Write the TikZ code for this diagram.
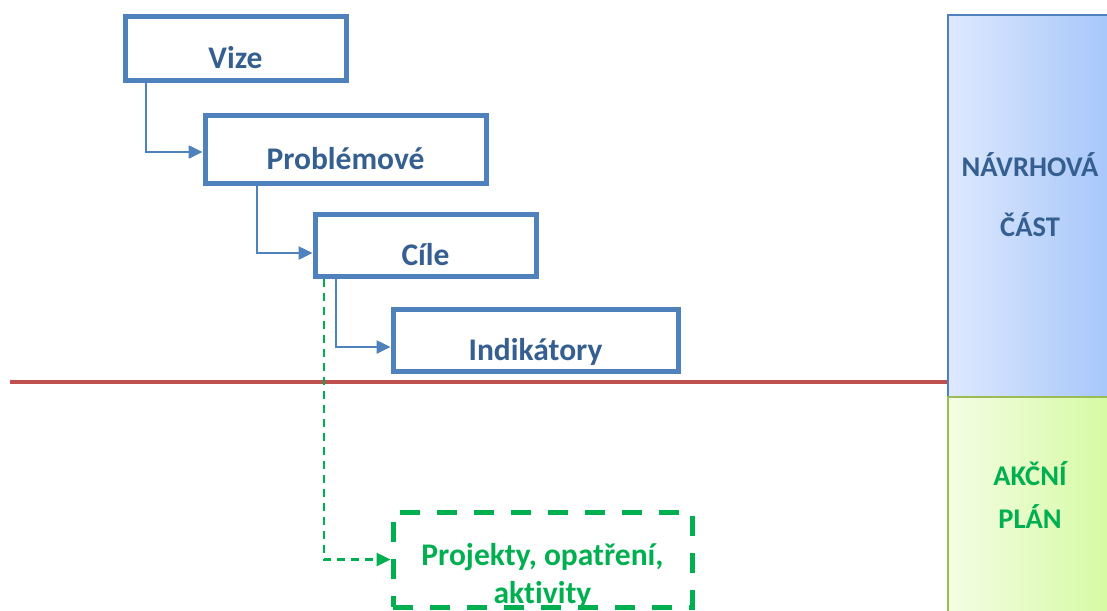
\documentclass[tikz,border=0pt]{standalone}
\usepackage{fontspec}
\setmainfont{Carlito}[Ligatures=NoCommon]
\usepackage{xcolor}
\usetikzlibrary{arrows.meta,calc,positioning}
\definecolor{boxblue}{RGB}{79,129,189}
\definecolor{textblue}{RGB}{54,95,145}
\definecolor{actgreen}{RGB}{0,176,80}
\definecolor{linered}{RGB}{192,80,77}
\definecolor{planborder}{RGB}{155,187,89}

\begin{document}
\begin{tikzpicture}[x=1pt, y=-1pt,
    every node/.style={font=\bfseries\fontsize{31.5}{38}\selectfont},
    level/.style={draw=boxblue, line width=5pt, text=textblue, inner sep=0pt,
        text height=40pt, text depth=0pt},
    link/.style={draw=boxblue, line width=2.5pt, -{Triangle[length=14pt,width=13pt]}},
    actlink/.style={draw=actgreen, line width=2.5pt, dash pattern=on 8pt off 6pt,
        -{Triangle[length=14pt,width=13pt]}},
    actbox/.style={draw=actgreen, line width=5pt, dash pattern=on 20pt off 17pt,
        text=actgreen, inner sep=0pt, align=center},
    panel/.style={line width=2pt, inner sep=0pt, align=center,
        font=\bfseries\fontsize{28.5}{60}\selectfont}]
    \useasboundingbox (0,0) rectangle (1107,610);

    % Right side: the two parts of the document
    \node[panel, draw=boxblue, left color={rgb,255:red,222;green,233;blue,254},
        right color={rgb,255:red,166;green,198;blue,250}, text=textblue,
        minimum width=164pt, minimum height=381.5pt, text height=60.5pt, text depth=0pt]
        (nav) at (1030,206.25) {NÁVRHOVÁ\\ČÁST};
    \node[panel, draw=planborder, left color={rgb,255:red,243;green,253;blue,228},
        right color={rgb,255:red,214;green,250;blue,162}, text=actgreen,
        font=\bfseries\fontsize{28.5}{43}\selectfont,
        minimum width=164pt, minimum height=215pt, text height=48pt, text depth=0pt]
        (plan) at (1030,504.5) {AKČNÍ\\PLÁN};

    % Dividing line
    \coordinate (redstart) at (10,381.5);
    \draw[linered, line width=4pt] (redstart) -- (redstart -| nav.west);

    % Levels of the strategy
    \node[level, minimum width=221pt, minimum height=63pt] (vize) at (235.5,48.5) {Vize};
    \node[level, minimum width=281pt, minimum height=68pt] (prob) at (345.5,149) {Problémové};
    \node[level, minimum width=221pt, minimum height=62pt] (cile) at (425.5,245) {Cíle};
    \node[level, minimum width=285pt, minimum height=62pt] (ind) at (535.5,340) {Indikátory};
    \node[actbox, minimum width=299pt, minimum height=95pt, text height=87pt, text depth=0pt]
        (proj) at (542.5,559.5) {Projekty, opatření,\\aktivity};

    % Connectors
    \draw[link] ([xshift=23.5pt]vize.south west) |- ([yshift=-3pt]prob.west);
    \draw[link] ([xshift=54.5pt]prob.south west) |- ([yshift=-8pt]cile.west);
    \draw[link] ([xshift=23.5pt]cile.south west) |- ([yshift=-7pt]ind.west);
    \draw[actlink] ([xshift=11.5pt]cile.south west) |- (proj.west);
\end{tikzpicture}
\end{document}
